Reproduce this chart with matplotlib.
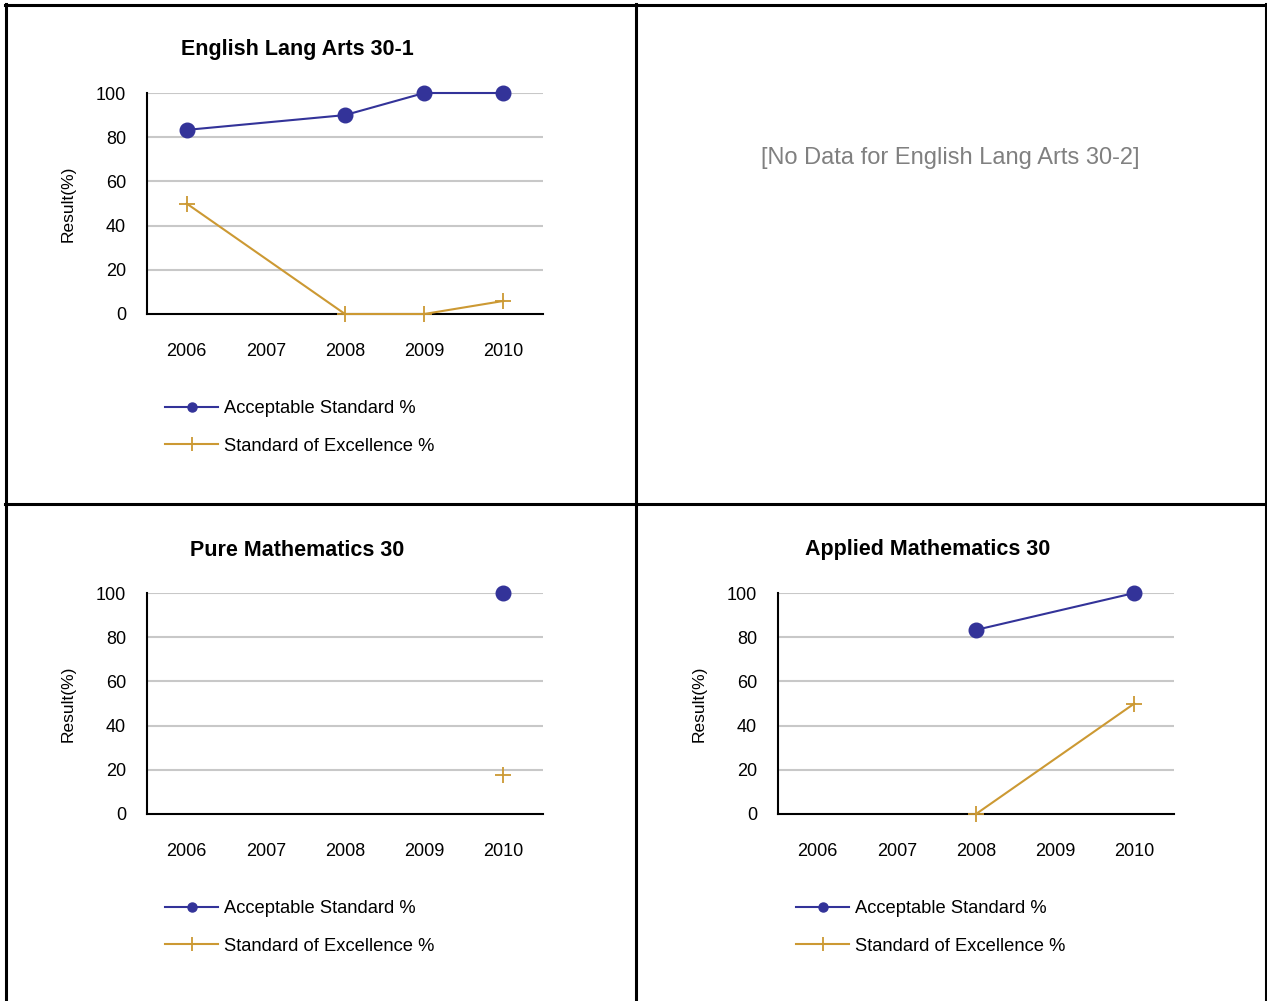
import matplotlib
matplotlib.use("Agg")
import matplotlib.pyplot as plt
import numpy as np
from matplotlib.lines import Line2D

plt.rcParams['font.family'] = ['Liberation Sans', 'DejaVu Sans']

years = ["2006", "2007", "2008", "2009", "2010"]
yticks = [0, 20, 40, 60, 80, 100]

ela_acceptable = [83.3, np.nan, 90.0, 100.0, 100.0]
ela_excellence = [50.0, np.nan, 0.0, 0.0, 5.9]

pure_acceptable = [np.nan, np.nan, np.nan, np.nan, 100.0]
pure_excellence = [np.nan, np.nan, np.nan, np.nan, 17.6]

applied_acceptable = [np.nan, np.nan, 83.3, np.nan, 100.0]
applied_excellence = [np.nan, np.nan, 0.0, np.nan, 50.0]

titles = ["English Lang Arts 30-1", "Pure Mathematics 30", "Applied Mathematics 30"]
no_data_text = "[No Data for English Lang Arts 30-2]"
series_names = ["Acceptable Standard %", "Standard of Excellence %"]

BLUE = "#333399"
GOLD = "#CC9933"

W, H = 1267, 1001
fig = plt.figure(figsize=(W / 100, H / 100), dpi=100)


def px_axes(x0, y0, x1, y1):
    return fig.add_axes([x0 / W, 1 - y1 / H, (x1 - x0) / W, (y1 - y0) / H])


def panel(x0, y0, title, acc, exc):
    AW, AH = 396, 221
    ax = px_axes(x0, y0, x0 + AW, y0 + AH)
    xs = np.arange(len(years))
    acc = np.array(acc, dtype=float)
    exc = np.array(exc, dtype=float)
    m = ~np.isnan(acc)
    ax.plot(xs[m], acc[m], color=BLUE, lw=1.5, marker='o', ms=10.5,
            clip_on=False, zorder=4, label=series_names[0])
    m2 = ~np.isnan(exc)
    ax.plot(xs[m2], exc[m2], color=GOLD, lw=1.5, marker='+', ms=12, mew=1.3,
            clip_on=False, zorder=3, label=series_names[1])
    ax.set_xlim(-0.5, len(years) - 0.5)
    ax.set_ylim(0, 100)
    ax.set_yticks(yticks)
    ax.set_yticklabels([str(v) for v in yticks], fontsize=13)
    ax.set_xticks(xs)
    ax.set_xticklabels(years, fontsize=13)
    ax.tick_params(axis='both', length=0)
    ax.tick_params(axis='y', pad=15)
    ax.tick_params(axis='x', pad=21)
    for v in yticks[1:]:
        ax.axhline(v, color="#C8C8C8", lw=1.5, zorder=1)
    for s in ['top', 'right']:
        ax.spines[s].set_visible(False)
    ax.spines['left'].set_linewidth(1.5)
    ax.spines['bottom'].set_linewidth(1.5)
    ax.spines['bottom'].set_zorder(2)
    ax.set_ylabel("Result(%)", fontsize=12.5)
    ax.yaxis.set_label_coords(-71 / AW, 0.5)
    fig.text((x0 + 150) / W, 1 - (y0 - 43) / H, title, fontsize=15.5,
             fontweight='bold', ha='center', va='center')
    handles = [Line2D([], [], color=BLUE, lw=1.5, marker='o', ms=6.5),
               Line2D([], [], color=GOLD, lw=1.5, marker='+', ms=10, mew=1.3)]
    fig.legend(handles, series_names, loc='upper left',
               bbox_to_anchor=((x0 + 18) / W, 1 - (y0 + 307) / H),
               frameon=False, fontsize=13.2, handlelength=2.9, handletextpad=0.33,
               labelspacing=1.12, borderpad=0, borderaxespad=0)
    return ax


panel(147, 93, titles[0], ela_acceptable, ela_excellence)
panel(147, 593, titles[1], pure_acceptable, pure_excellence)
panel(778, 593, titles[2], applied_acceptable, applied_excellence)

fig.text(950 / W, 1 - 158 / H, no_data_text, fontsize=17, color="#808080",
         ha='center', va='center')


def hline(y, x0, x1):
    fig.add_artist(Line2D([x0 / W, x1 / W], [1 - y / H, 1 - y / H],
                          color='black', lw=2.2, transform=fig.transFigure))


def vline(x, y0, y1):
    fig.add_artist(Line2D([x / W, x / W], [1 - y0 / H, 1 - y1 / H],
                          color='black', lw=2.2, transform=fig.transFigure))


hline(5, 5, 1267)
hline(504, 5, 1267)
vline(6, 4, 1001)
vline(636, 4, 1001)
vline(1266, 4, 1001)

fig.savefig("out.png", dpi=100)
